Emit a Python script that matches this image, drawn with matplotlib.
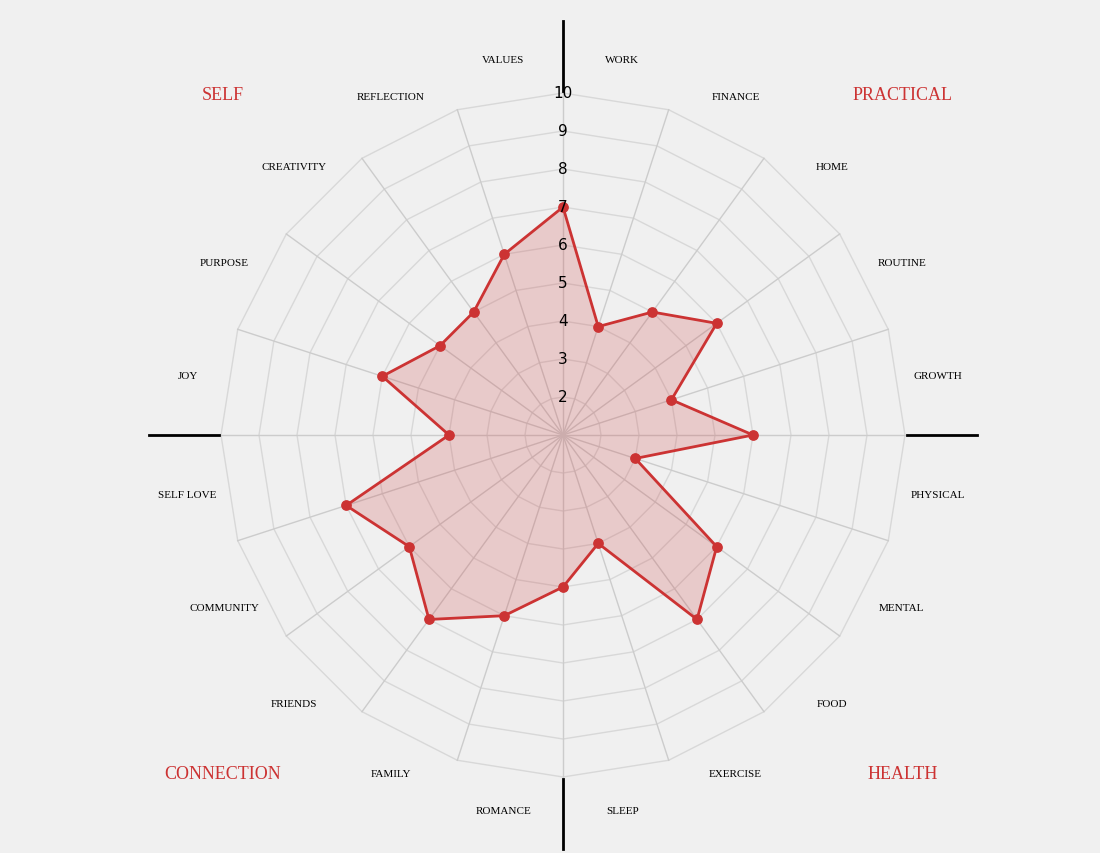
import numpy as np
import matplotlib
matplotlib.use("Agg")
import matplotlib.pyplot as plt

labels = ["WORK", "FINANCE", "HOME", "ROUTINE", "GROWTH", "PHYSICAL", "MENTAL", "FOOD",
          "EXERCISE", "SLEEP", "ROMANCE", "FAMILY", "FRIENDS", "COMMUNITY", "SELF LOVE",
          "JOY", "PURPOSE", "CREATIVITY", "REFLECTION", "VALUES"]
values = [7, 4, 5, 6, 4, 6, 3, 6, 7, 4, 5, 6, 7, 6, 7, 4, 6, 5, 5, 6]
groups = ["SELF", "PRACTICAL", "CONNECTION", "HEALTH"]
ticks = [2, 3, 4, 5, 6, 7, 8, 9, 10]

bg = "#f0f0f0"
red = "#cc3333"
fig = plt.figure(figsize=(11, 8.54), dpi=100, facecolor=bg)
ax = fig.add_axes([145/1100, 0, 836/1100, 836/854], projection="polar")
ax.set_facecolor(bg)
ax.set_theta_zero_location("N")
ax.set_theta_direction(-1)
ax.set_ylim(1, 12)
ax.grid(False)
ax.set_xticks([]); ax.set_yticks([])
ax.spines["polar"].set_visible(False)

n = len(values)
ang = np.arange(n) * 2 * np.pi / n
closed = np.append(ang, ang[0])
for r in range(2, 11):
    ax.plot(closed, [r] * (n + 1), color="#d8d8d8", lw=1, zorder=1)
for a in ang:
    ax.plot([a, a], [1, 10], color="#cccccc", lw=1, zorder=1)
for a in [0, np.pi / 2, np.pi, 3 * np.pi / 2]:
    ax.plot([a, a], [10.05, 11.9], color="black", lw=2, zorder=2)

v = np.append(values, values[0])
ax.fill(closed, v, color=red, alpha=0.2, zorder=3)
ax.plot(closed, v, color=red, lw=2, zorder=4)
ax.scatter(ang, values, color=red, s=45, zorder=5)

for t in ticks:
    ax.text(0, t, str(t), ha="center", va="center", fontsize=11, family="DejaVu Sans", zorder=6)

for i, lab in enumerate(labels):
    a = ang[i] + np.pi / n
    ax.text(a, 11.0, lab, ha="center", va="center", fontsize=8, family="Liberation Serif")

pos = [(223, 95), (903, 95), (223, 775), (903, 775)]
for g, (x, y) in zip(groups, pos):
    fig.text(x / 1100, 1 - y / 854, g, ha="center", va="center", fontsize=13,
             color=red, family="Liberation Serif")

fig.savefig("out.png", dpi=100, facecolor=bg)
